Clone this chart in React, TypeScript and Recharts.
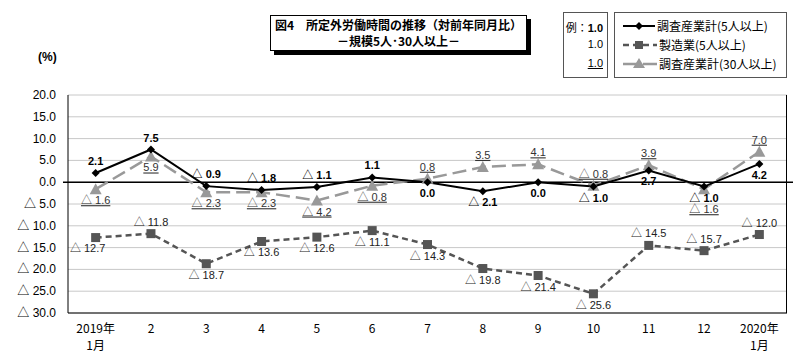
import { CartesianGrid, ComposedChart, LabelList, Line, ReferenceLine, XAxis, YAxis } from 'recharts';

const months = ['2019年/1月', '2', '3', '4', '5', '6', '7', '8', '9', '10', '11', '12', '2020年/1月'];
const allIndustries5 = [2.1, 7.5, -0.9, -1.8, -1.1, 1.1, 0.0, -2.1, 0.0, -1.0, 2.7, -1.0, 4.2];
const manufacturing5 = [-12.7, -11.8, -18.7, -13.6, -12.6, -11.1, -14.3, -19.8, -21.4, -25.6, -14.5, -15.7, -12.0];
const allIndustries30 = [-1.6, 5.9, -2.3, -2.3, -4.2, -0.8, 0.8, 3.5, 4.1, -0.8, 3.9, -1.6, 7.0];
const yTicks = [20, 15, 10, 5, 0, -5, -10, -15, -20, -25, -30];

// label placement per point: T = above, B = below, BB = further below, BL = below-left
const place1 = ['T', 'T', 'T', 'T', 'T', 'T', 'B', 'B', 'B', 'B', 'B', 'B', 'B'];
const place2 = ['BL', 'T', 'B', 'B', 'B', 'B', 'B', 'B', 'B', 'B', 'T', 'T', 'T'];
const place3 = ['B', 'B', 'B', 'B', 'B', 'B', 'T', 'T', 'T', 'T', 'T', 'BB', 'T'];

const data = months.map((m, i) => ({
  month: m,
  s1: allIndustries5[i],
  s2: manufacturing5[i],
  s3: allIndustries30[i]
}));

const fmt = (v: number) => (v < 0 ? `△ ${Math.abs(v).toFixed(1)}` : v.toFixed(1));
const narrow = '"Liberation Sans Narrow", "Liberation Sans", "Noto Sans CJK JP", sans-serif';
const jp = '"Noto Sans CJK JP", sans-serif';

function makeLabel(places: string[], style: { weight: number; color: string; underline?: boolean; size: number }) {
  return (props: any) => {
    const { x, y, value, index } = props;
    const p = places[index];
    let dx = 0;
    let dy = -8;
    if (p === 'B') dy = 15;
    if (p === 'BB') dy = 24;
    if (p === 'BL') {
      dy = 14;
      dx = -8;
    }
    return (
      <text
        x={x + dx}
        y={y + dy}
        textAnchor="middle"
        fontFamily={narrow}
        fontSize={style.size}
        fontWeight={style.weight}
        fill={style.color}
        textDecoration={style.underline ? 'underline' : undefined}
      >
        {fmt(Number(value))}
      </text>
    );
  };
}

const Diamond = (props: any) => {
  const { cx, cy, index } = props;
  return <path key={`d${index}`} d={`M${cx},${cy - 4}L${cx + 4},${cy}L${cx},${cy + 4}L${cx - 4},${cy}Z`} fill="#000" />;
};
const Square = (props: any) => {
  const { cx, cy, index } = props;
  return <rect key={`s${index}`} x={cx - 4.5} y={cy - 4.5} width={9} height={9} fill="#555" />;
};
const Triangle = (props: any) => {
  const { cx, cy, index } = props;
  return <path key={`t${index}`} d={`M${cx},${cy - 6}L${cx + 6},${cy + 5}L${cx - 6},${cy + 5}Z`} fill="#999" />;
};

const MonthTick = (props: any) => {
  const { x, y, payload } = props;
  const parts = String(payload.value).split('/');
  return (
    <g>
      {parts.map((t, i) => (
        <text key={t} x={x} y={y + 12 + i * 17} textAnchor="middle" fontFamily={jp} fontSize={12} fill="#000">
          {t}
        </text>
      ))}
    </g>
  );
};

const YTick = (props: any) => {
  const { x, y, payload } = props;
  return (
    <text x={x - 4} y={y + 4} textAnchor="end" fontFamily={narrow} fontSize={12} fill="#000">
      {fmt(payload.value)}
    </text>
  );
};

const ZeroLine = (props: any) => {
  const { x1, y1, x2 } = props;
  return <line x1={x1 - 5} y1={y1} x2={x2 + 6} y2={y1} stroke="#000" strokeWidth={1.5} />;
};

export default function App() {
  return (
    <div style={{ position: 'absolute', left: 0, top: 0, width: 800, height: 359, background: '#fff' }}>
      <ComposedChart width={800} height={359} data={data} margin={{ top: 95, right: 13, bottom: 6, left: 0 }}>
        <CartesianGrid vertical={false} stroke="#c8c8c8" />
        <XAxis dataKey="month" scale="band" tick={<MonthTick />} tickLine={false} axisLine={{ stroke: '#000' }} height={40} interval={0} />
        <YAxis domain={[-30, 20]} ticks={yTicks} interval={0} tick={<YTick />} tickLine={false} axisLine={{ stroke: '#000' }} width={68} />
        <ReferenceLine y={0} shape={<ZeroLine />} ifOverflow="visible" />
        <Line dataKey="s2" stroke="#555" strokeWidth={2.5} strokeDasharray="6 4" dot={Square} isAnimationActive={false}>
          <LabelList dataKey="s2" content={makeLabel(place2, { weight: 400, color: '#222', size: 11 })} />
        </Line>
        <Line dataKey="s3" stroke="#999" strokeWidth={2.5} strokeDasharray="14 6" dot={Triangle} isAnimationActive={false}>
          <LabelList dataKey="s3" content={makeLabel(place3, { weight: 400, color: '#333', underline: true, size: 11 })} />
        </Line>
        <Line dataKey="s1" stroke="#000" strokeWidth={2} dot={Diamond} isAnimationActive={false}>
          <LabelList dataKey="s1" content={makeLabel(place1, { weight: 700, color: '#000', size: 11 })} />
        </Line>
      </ComposedChart>

      {/* right frame of the plot area */}
      <div style={{ position: 'absolute', left: 786, top: 95, width: 1, height: 218, background: '#000' }} />

      <div style={{ position: 'absolute', left: 38, top: 50, fontFamily: narrow, fontSize: 12, fontWeight: 700 }}>(%)</div>

      <div
        style={{
          position: 'absolute',
          left: 270,
          top: 15,
          width: 255,
          height: 33,
          border: '1px solid #000',
          boxShadow: '4px 4px 0 #000',
          background: '#fff',
          fontFamily: jp,
          fontWeight: 700,
          fontSize: 12,
          lineHeight: '16px',
          textAlign: 'center',
          paddingTop: 1
        }}
      >
        <div>図4　所定外労働時間の推移（対前年同月比）</div>
        <div>－規模5人･30人以上－</div>
      </div>

      <div
        style={{
          position: 'absolute',
          left: 563,
          top: 12,
          width: 45,
          height: 66,
          border: '1px solid #555',
          fontFamily: narrow,
          fontSize: 11,
          textAlign: 'right',
          boxSizing: 'border-box',
          paddingRight: 4
        }}
      >
        <div style={{ position: 'absolute', right: 4, top: 6 }}>
          <span style={{ fontFamily: jp }}>例：</span>
          <b>1.0</b>
        </div>
        <div style={{ position: 'absolute', right: 4, top: 25 }}>1.0</div>
        <div style={{ position: 'absolute', right: 4, top: 44, textDecoration: 'underline' }}>1.0</div>
      </div>

      <div
        style={{
          position: 'absolute',
          left: 614,
          top: 12,
          width: 173,
          height: 66,
          border: '1px solid #555',
          boxSizing: 'border-box',
          fontFamily: jp,
          fontSize: 12
        }}
      >
        <svg width={40} height={64} style={{ position: 'absolute', left: 6, top: 0 }}>
          <line x1={2} y1={13} x2={34} y2={13} stroke="#000" strokeWidth={2} />
          <path d="M18,9L22,13L18,17L14,13Z" fill="#000" />
          <line x1={2} y1={32} x2={36} y2={32} stroke="#555" strokeWidth={2.5} strokeDasharray="6 4" />
          <rect x={14} y={28} width={8} height={8} fill="#555" />
          <line x1={2} y1={51} x2={36} y2={51} stroke="#999" strokeWidth={2.5} strokeDasharray="14 6" />
          <path d="M18,45L24,55L12,55Z" fill="#999" />
        </svg>
        <div style={{ position: 'absolute', left: 42, top: 4 }}>調査産業計(5人以上)</div>
        <div style={{ position: 'absolute', left: 44, top: 23 }}>製造業(5人以上)</div>
        <div style={{ position: 'absolute', left: 44, top: 42 }}>調査産業計(30人以上)</div>
      </div>
    </div>
  );
}
